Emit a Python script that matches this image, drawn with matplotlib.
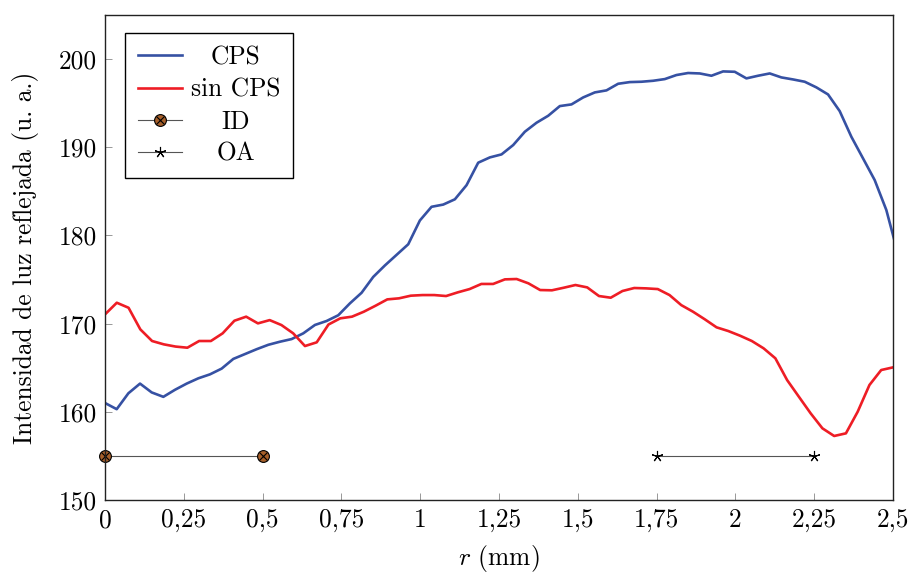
import matplotlib
matplotlib.use('Agg')
import matplotlib.pyplot as plt
from matplotlib.legend_handler import HandlerTuple
import numpy as np

plt.rcParams['font.family'] = 'serif'
plt.rcParams['font.serif'] = ['cmr10']
plt.rcParams['mathtext.fontset'] = 'cm'
plt.rcParams['axes.unicode_minus'] = False

# perfil con CPS: paso de 0,037 mm (el ultimo punto queda fuera del eje)
r_cps = np.arange(69) * 0.037
cps = [161.0, 160.3, 162.1, 163.2, 162.2, 161.7, 162.5, 163.2, 163.8, 164.25,
       164.9, 166.0, 166.55, 167.1, 167.6, 167.95, 168.25, 168.9, 169.85, 170.3,
       170.95, 172.3, 173.5, 175.3, 176.6, 177.8, 179.0, 181.7, 183.25, 183.5,
       184.1, 185.7, 188.25, 188.85, 189.19, 190.25, 191.76, 192.78, 193.57, 194.67,
       194.86, 195.65, 196.22, 196.45, 197.2, 197.39, 197.43, 197.54, 197.73, 198.19,
       198.42, 198.37, 198.11, 198.6, 198.56, 197.81, 198.11, 198.37, 197.92, 197.69,
       197.43, 196.79, 195.99, 194.1, 191.19, 188.74, 186.28, 182.88, 177.9]

# perfil sin CPS
r_sin = np.linspace(0, 2.5, 68)
sin_cps = [171.05, 172.37, 171.8, 169.35, 168.03, 167.65, 167.4, 167.27, 168.03, 168.03,
           168.9, 170.33, 170.79, 170.03, 170.4, 169.84, 168.9, 167.46, 167.88, 169.9,
           170.6, 170.79, 171.35, 172.03, 172.75, 172.87, 173.17, 173.24, 173.24, 173.13,
           173.55, 173.92, 174.5, 174.5, 175.02, 175.06, 174.57, 173.81, 173.78, 174.07,
           174.38, 174.11, 173.13, 172.94, 173.7, 174.04, 174.0, 173.92, 173.24, 172.1,
           171.35, 170.49, 169.58, 169.16, 168.63, 168.03, 167.2, 166.07, 163.6, 161.71,
           159.83, 158.13, 157.26, 157.56, 160.01, 163.04, 164.74, 165.04]

id_r = [0, 0.5]
id_y = [155, 155]
oa_r = [1.75, 2.25]
oa_y = [155, 155]

labels = ['CPS', 'sin CPS', 'ID', 'OA']
xticks = [0, 0.25, 0.5, 0.75, 1, 1.25, 1.5, 1.75, 2, 2.25, 2.5]
xticklabels = ['0', '0,25', '0,5', '0,75', '1', '1,25', '1,5', '1,75', '2', '2,25', '2,5']
yticks = [150, 160, 170, 180, 190, 200]

FS = 18.3

fig = plt.figure(figsize=(9.11, 5.74), dpi=100)
ax = fig.add_axes([0.1153, 0.1289, 0.8649, 0.845])

l1, = ax.plot(r_cps, cps, color='#3651a3', lw=1.9)
l2, = ax.plot(r_sin, sin_cps, color='#ee1d25', lw=1.9)
l3, = ax.plot(id_r, id_y, color='#555555', lw=0.8, marker='o', ms=8.5,
              mfc='#a65f2a', mec='black', mew=0.8, clip_on=False)
l3x, = ax.plot(id_r, id_y, ls='none', marker='x', ms=5.5, mec='black', mew=0.8,
               clip_on=False)
l4, = ax.plot(oa_r, oa_y, color='#555555', lw=0.8, marker=(5, 2, 0), ms=8,
              mec='black', mew=0.8)

ax.set_xlim(0, 2.5)
ax.set_ylim(150, 205)
ax.set_xticks(xticks)
ax.set_xticklabels(xticklabels)
ax.set_yticks(yticks)
ax.tick_params(direction='in', length=5, width=0.6, color='#888888',
               labelsize=FS, pad=6, top=False, right=False)
for s in ax.spines.values():
    s.set_linewidth(1.0)
    s.set_color('#222222')

ax.set_xlabel('$r$ (mm)', fontsize=FS, labelpad=8)
ax.set_ylabel('Intensidad de luz reflejada (u. a.)', fontsize=FS, labelpad=14)

# leyenda: huecos del ancho de la etiqueta mas larga y texto centrado encima
widest = max(labels, key=len)
leg = ax.legend([l1, l2, (l3, l3x), l4], [widest] * len(labels),
                handler_map={tuple: HandlerTuple(ndivide=1)},
                loc='upper left', bbox_to_anchor=(0.0254, 0.963), borderaxespad=0,
                fontsize=FS, numpoints=1, fancybox=False, edgecolor='black',
                framealpha=1, handlelength=1.75, handletextpad=0.35,
                labelspacing=0.33, borderpad=0.5)
leg.get_frame().set_linewidth(1.0)
for t in leg.get_texts():
    t.set_alpha(0)

fig.canvas.draw()
renderer = fig.canvas.get_renderer()
inv = fig.transFigure.inverted()
for t, lab in zip(leg.get_texts(), labels):
    bb = t.get_window_extent(renderer)
    cx, cy = inv.transform(((bb.x0 + bb.x1) / 2, (bb.y0 + bb.y1) / 2))
    fig.text(cx, cy, lab, ha='center', va='center', fontsize=FS, zorder=10)

fig.savefig('out.png', dpi=100)
